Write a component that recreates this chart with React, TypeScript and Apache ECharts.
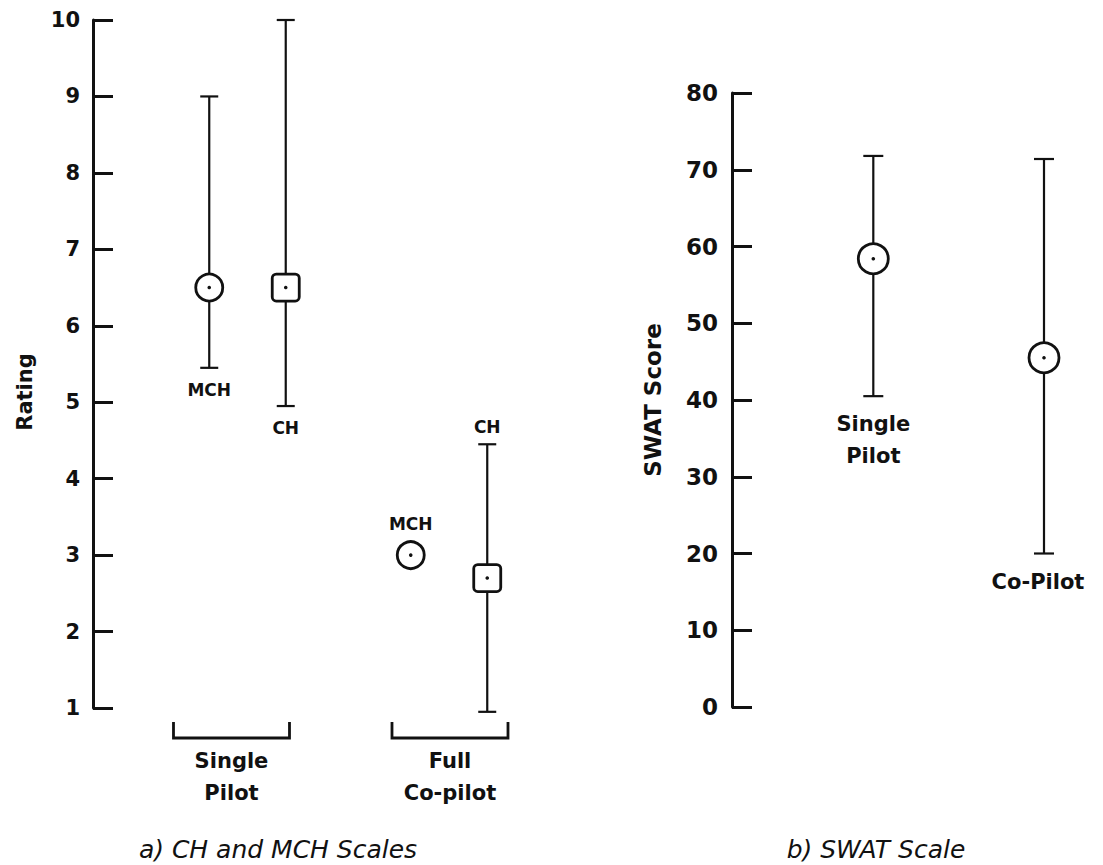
import React, { useEffect, useRef } from "react";
import * as echarts from "echarts";

// ---------------- data ----------------
const ratingGroups = ["Single Pilot", "Full Co-pilot"];
const ratingScales = ["MCH", "CH"];
const mchMean = [6.5, 3.0];
const mchLow: (number | null)[] = [5.45, null];
const mchHigh: (number | null)[] = [9.0, null];
const chMean = [6.5, 2.7];
const chLow: (number | null)[] = [4.95, 0.95];
const chHigh: (number | null)[] = [10.0, 4.45];
const ratingTicks = [1, 2, 3, 4, 5, 6, 7, 8, 9, 10];

const swatGroups = ["Single Pilot", "Co-Pilot"];
const swatMean = [58.4, 45.5];
const swatLow = [40.5, 20.0];
const swatHigh = [71.8, 71.4];
const swatTicks = [0, 10, 20, 30, 40, 50, 60, 70, 80];

const captions = ["a) CH and MCH Scales", "b) SWAT Scale"];
const axisNames = ["Rating", "SWAT Score"];

// ---------------- style / layout ----------------
const FONT = '"DejaVu Sans", sans-serif';
const INK = "#111";
const W = "bold";
const DODGE = 38.25; // px offset of MCH (left) / CH (right) within a group
const LEFT_LABEL_SIDE = ["below", "above"]; // where scale label sits per group
const BRACKET_SHIFT = [-16, 1]; // px
const BRACKET_HALF = 58;

function markerGroup(cx: number, cy: number, kind: string, r: number) {
  const children: any[] = [];
  if (kind === "square") {
    children.push({
      type: "rect",
      shape: { x: cx - r, y: cy - r, width: 2 * r, height: 2 * r, r: 4 },
      style: { fill: "#fff", stroke: INK, lineWidth: 2.8 },
    });
  } else {
    children.push({
      type: "circle",
      shape: { cx, cy, r },
      style: { fill: "#fff", stroke: INK, lineWidth: 2.8 },
    });
  }
  children.push({ type: "circle", shape: { cx, cy, r: 1.8 }, style: { fill: INK } });
  return children;
}

function whisker(cx: number, yTop: number, yBot: number, capHalf: number) {
  const st = { stroke: INK, lineWidth: 2.2 };
  return [
    { type: "line", shape: { x1: cx, y1: yTop, x2: cx, y2: yBot }, style: st },
    { type: "line", shape: { x1: cx - capHalf, y1: yTop, x2: cx + capHalf, y2: yTop }, style: st },
    { type: "line", shape: { x1: cx - capHalf, y1: yBot, x2: cx + capHalf, y2: yBot }, style: st },
  ];
}

function ratingRenderer(scaleIdx: number) {
  const dodge = scaleIdx === 0 ? -DODGE : DODGE;
  const kind = scaleIdx === 0 ? "circle" : "square";
  const r = 13.5;
  return (params: any, api: any) => {
    const gi = api.value(0);
    const m = api.value(1);
    const lo = api.value(2);
    const hi = api.value(3);
    const pM = api.coord([gi, m]);
    const pL = api.coord([gi, lo]);
    const pH = api.coord([gi, hi]);
    const cx = pM[0] + dodge;
    const cy = pM[1];
    const hasBar = hi > lo;
    const children: any[] = [];
    if (hasBar) children.push(...whisker(cx, pH[1], pL[1], 9));
    children.push(...markerGroup(cx, cy, kind, r));
    const side = LEFT_LABEL_SIDE[gi];
    let ly: number;
    if (side === "below") ly = (hasBar ? pL[1] : cy + r) + 22;
    else ly = (hasBar ? pH[1] : cy - r) - 17.5;
    children.push({
      type: "text",
      x: cx,
      y: ly,
      style: {
        text: ratingScales[scaleIdx],
        fill: INK,
        fontFamily: FONT,
        fontWeight: "bold",
        fontSize: 17,
        align: "center",
        verticalAlign: "middle",
      },
    });
    return { type: "group", children };
  };
}

function bracketRenderer(params: any, api: any) {
  const gi = api.value(0);
  const base = api.coord([gi, api.value(1)]);
  const cx = base[0] + BRACKET_SHIFT[gi];
  const yb = base[1] + 30;
  const st = { stroke: INK, lineWidth: 2.8 };
  return {
    type: "group",
    children: [
      {
        type: "polyline",
        shape: {
          points: [
            [cx - BRACKET_HALF, yb - 16],
            [cx - BRACKET_HALF, yb],
            [cx + BRACKET_HALF, yb],
            [cx + BRACKET_HALF, yb - 16],
          ],
        },
        style: { ...st, fill: "none" },
      },
      {
        type: "text",
        x: cx,
        y: yb + 7,
        style: {
          text: ratingGroups[gi].replace(" ", "\n"),
          fill: INK,
          fontFamily: FONT,
          fontWeight: W,
          fontSize: 21,
          lineHeight: 32,
          align: "center",
          verticalAlign: "top",
        },
      },
    ],
  };
}

function swatRenderer(params: any, api: any) {
  const gi = api.value(0);
  const pM = api.coord([gi, api.value(1)]);
  const pL = api.coord([gi, api.value(2)]);
  const pH = api.coord([gi, api.value(3)]);
  const cx = pM[0];
  const children: any[] = [];
  children.push(...whisker(cx, pH[1], pL[1], 10));
  children.push(...markerGroup(cx, pM[1], "circle", 15));
  children.push({
    type: "text",
    x: cx - (gi === 1 ? 6 : 0),
    y: pL[1] + 12,
    style: {
      text: swatGroups[gi].replace(" ", "\n"),
      fill: INK,
      fontFamily: FONT,
      fontWeight: W,
      fontSize: 21,
      lineHeight: 32,
      align: "center",
      verticalAlign: "top",
    },
  });
  return { type: "group", children };
}

function yAxisBase(gridIndex: number, ticks: number[], fontSize: number, margin: number) {
  return {
    type: "value",
    gridIndex,
    position: "left",
    min: ticks[0],
    max: ticks[ticks.length - 1],
    interval: ticks[1] - ticks[0],
    axisLine: { show: true, onZero: false, lineStyle: { color: INK, width: 3 } },
    axisTick: { show: true, inside: true, length: 20, lineStyle: { color: INK, width: 3 } },
    axisLabel: { color: INK, fontFamily: FONT, fontWeight: W, fontSize, margin },
    splitLine: { show: false },
    nameLocation: "middle",
    nameRotate: 90,
  };
}

export default function App() {
  const ref = useRef<HTMLDivElement>(null);
  useEffect(() => {
    if (!ref.current) return;
    const chart = echarts.init(ref.current, undefined, { renderer: "svg" });
    const captionStyle = {
      fill: INK,
      fontFamily: FONT,
      fontStyle: "italic",
      fontSize: 25,
      align: "center",
      verticalAlign: "middle",
    };
    const option: any = {
      animation: false,
      backgroundColor: "#fff",
      grid: [
        { left: 93, top: 20, width: 440, height: 688 },
        { left: 732, top: 93, width: 360, height: 614 },
      ],
      xAxis: [
        { type: "value", gridIndex: 0, min: -0.7667, max: 1.4169, show: false },
        { type: "value", gridIndex: 1, min: -0.8278, max: 1.2812, show: false },
      ],
      yAxis: [
        {
          ...yAxisBase(0, ratingTicks, 21, 13),
          name: axisNames[0],
          nameGap: 58,
          nameTextStyle: {
            color: INK,
            fontFamily: FONT,
            fontWeight: W,
            fontSize: 21,
            padding: [0, 56, 0, 0],
          },
        },
        {
          ...yAxisBase(1, swatTicks, 23, 14),
          name: axisNames[1],
          nameGap: 68,
          nameTextStyle: { color: INK, fontFamily: FONT, fontWeight: W, fontSize: 23 },
        },
      ],
      graphic: [
        { type: "text", x: 278, y: 849, style: { ...captionStyle, text: captions[0] } },
        { type: "text", x: 876, y: 849, style: { ...captionStyle, text: captions[1] } },
      ],
      series: [
        {
          type: "custom",
          name: "Group brackets",
          xAxisIndex: 0,
          yAxisIndex: 0,
          clip: false,
          renderItem: bracketRenderer,
          encode: { x: 0, y: 1 },
          data: ratingGroups.map((g, i) => [i, ratingTicks[0]]),
        },
        {
          type: "custom",
          name: ratingScales[0],
          xAxisIndex: 0,
          yAxisIndex: 0,
          clip: false,
          renderItem: ratingRenderer(0),
          encode: { x: 0, y: [1, 2, 3] },
          data: ratingGroups.map((g, i) => [
            i,
            mchMean[i],
            mchLow[i] ?? mchMean[i],
            mchHigh[i] ?? mchMean[i],
          ]),
        },
        {
          type: "custom",
          name: ratingScales[1],
          xAxisIndex: 0,
          yAxisIndex: 0,
          clip: false,
          renderItem: ratingRenderer(1),
          encode: { x: 0, y: [1, 2, 3] },
          data: ratingGroups.map((g, i) => [
            i,
            chMean[i],
            chLow[i] ?? chMean[i],
            chHigh[i] ?? chMean[i],
          ]),
        },
        {
          type: "custom",
          name: "SWAT",
          xAxisIndex: 1,
          yAxisIndex: 1,
          clip: false,
          renderItem: swatRenderer,
          encode: { x: 0, y: [1, 2, 3] },
          data: swatGroups.map((g, i) => [i, swatMean[i], swatLow[i], swatHigh[i]]),
        },
      ],
    };
    chart.setOption(option);
    return () => chart.dispose();
  }, []);
  return (
    <div
      ref={ref}
      style={{ position: "absolute", left: 0, top: 0, width: 1103, height: 865, background: "#fff" }}
    />
  );
}
